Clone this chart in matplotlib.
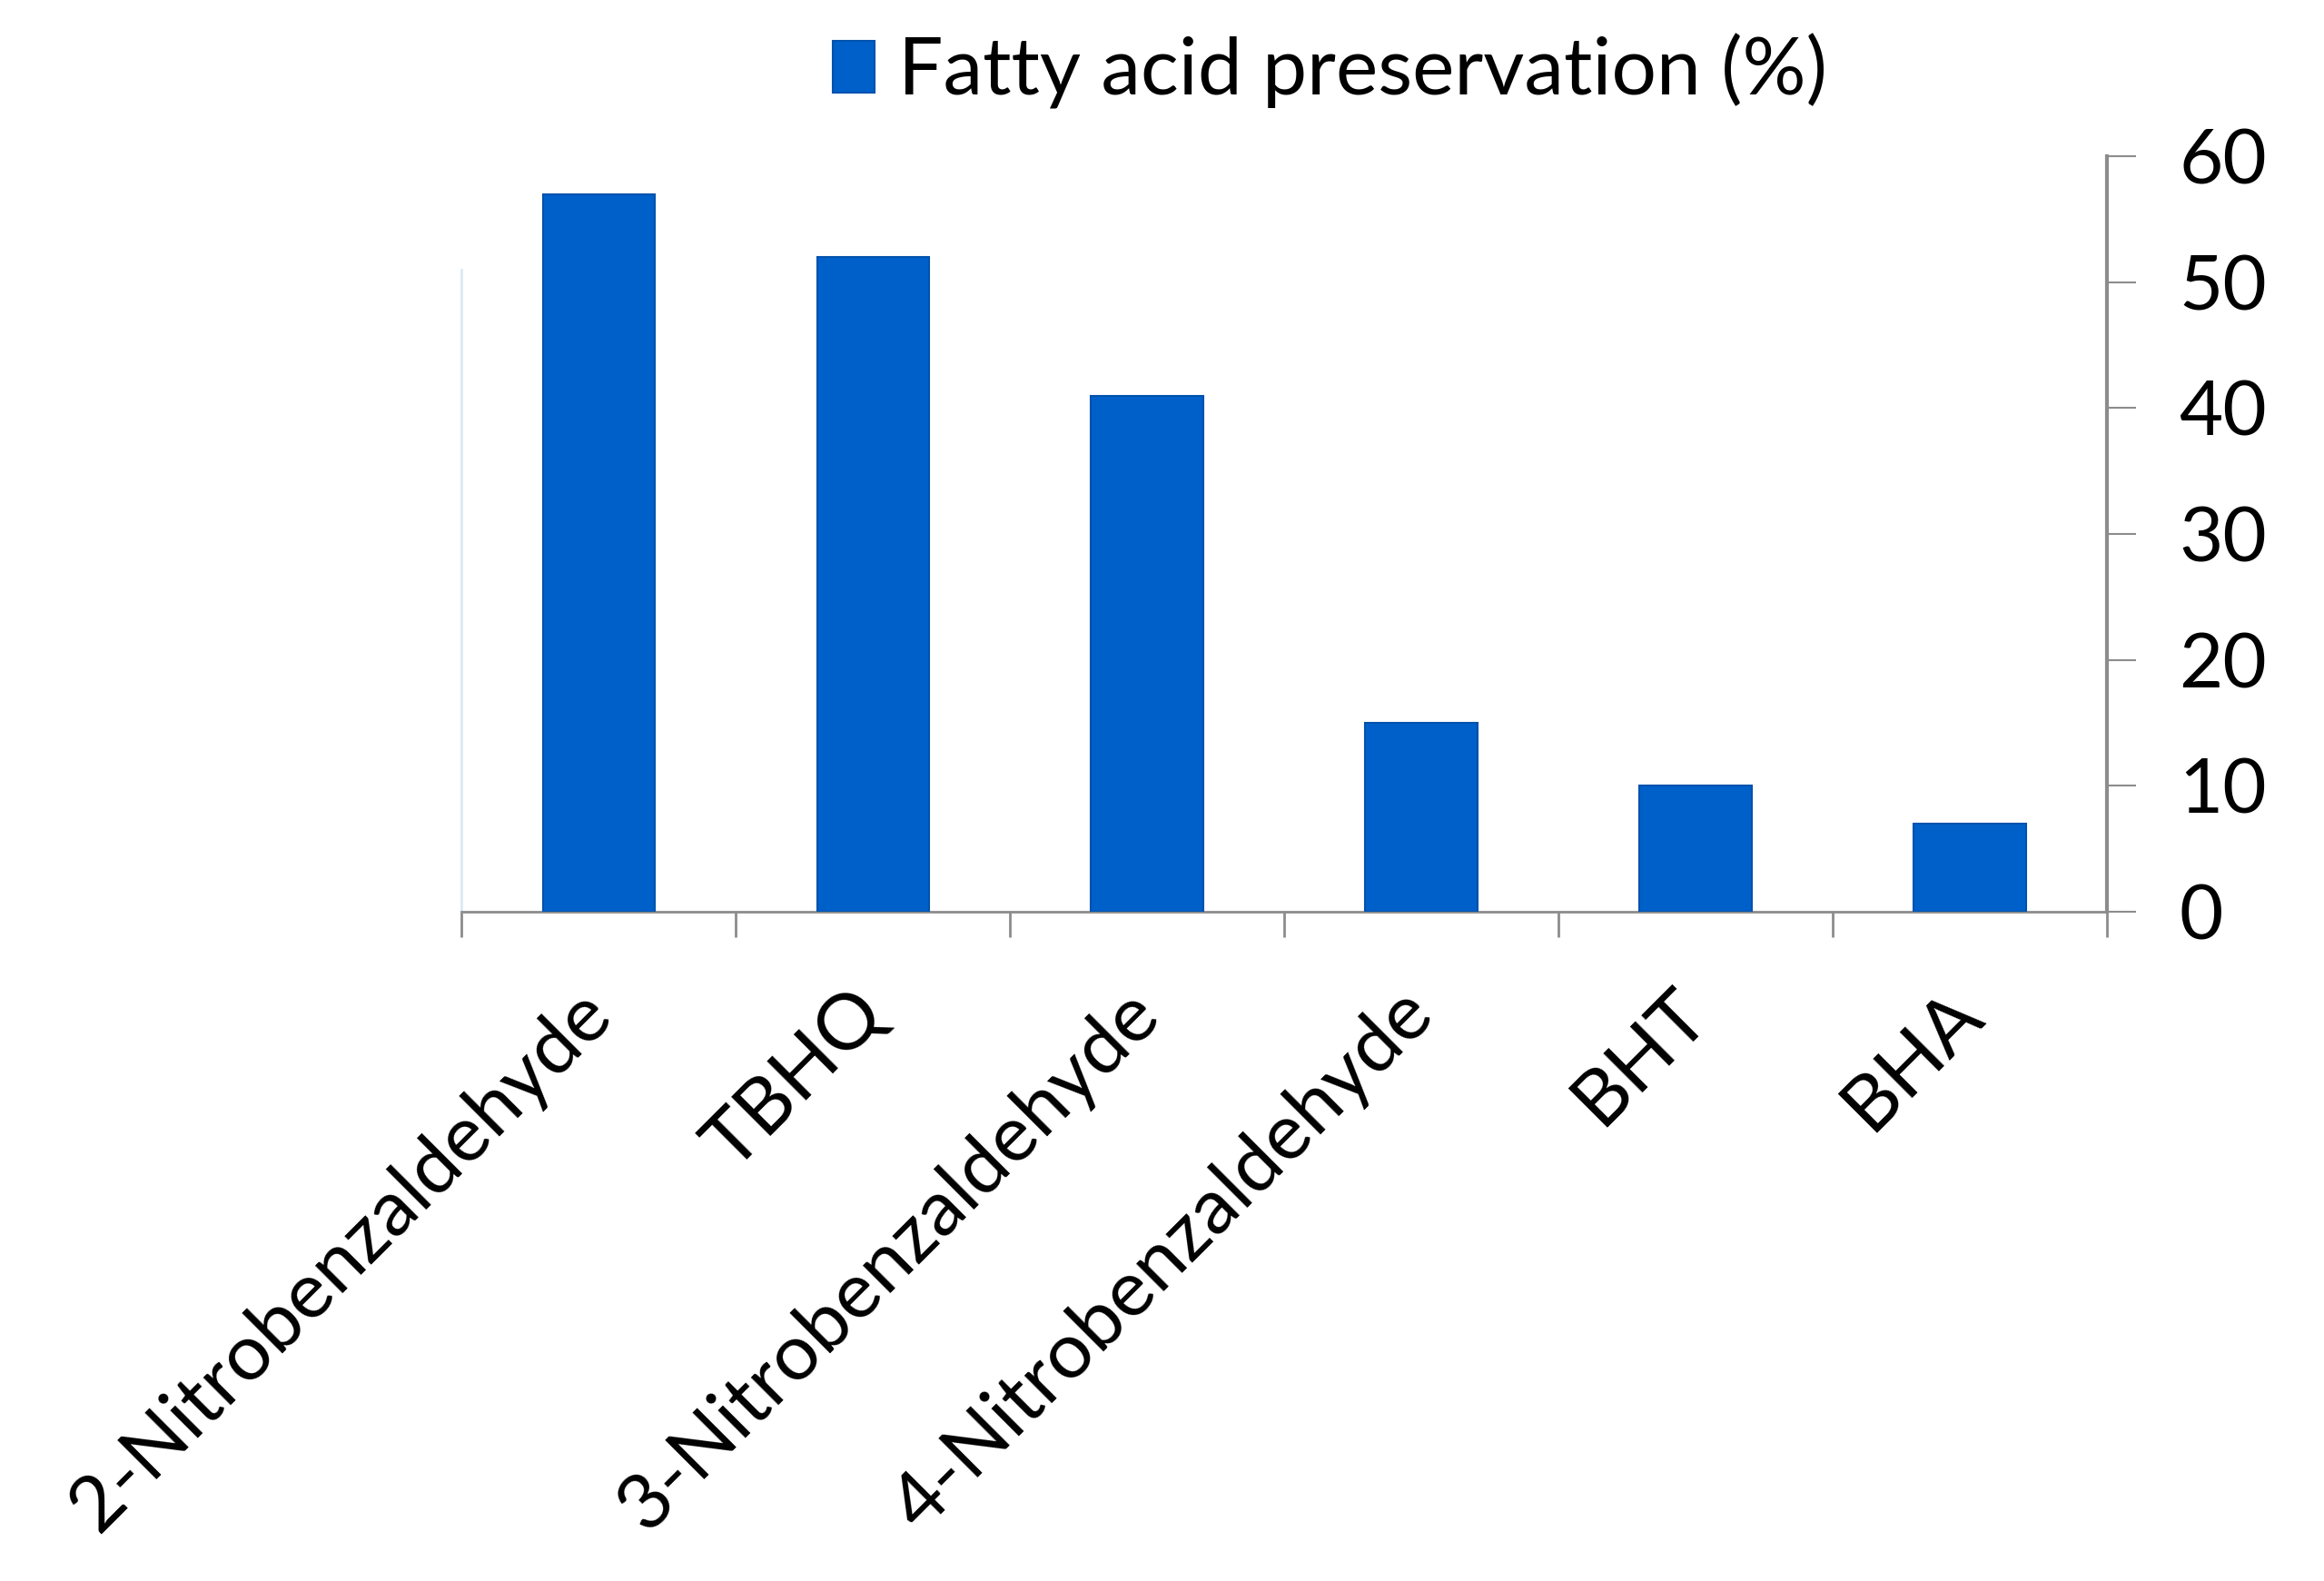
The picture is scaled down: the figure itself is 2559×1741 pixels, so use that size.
import numpy as np
import matplotlib
matplotlib.use('Agg')
import matplotlib.pyplot as plt
from matplotlib.ticker import FixedLocator, NullFormatter

plt.rcParams['font.family'] = ['Lato', 'DejaVu Sans']

# data
compounds = ['2-Nitrobenzaldehyde', 'TBHQ', '3-Nitrobenzaldehyde',
             '4-Nitrobenzaldehyde', 'BHT', 'BHA']
preservation = [57, 52, 41, 15, 10, 7]
y_ticks = [0, 10, 20, 30, 40, 50, 60]

bar_color = '#0060CA'
axis_color = '#8c8c8c'

fig = plt.figure(figsize=(25.59, 17.41), dpi=100)
ax = fig.add_axes([0.1987, 0.4235, 0.708, 0.4775])

x = np.arange(len(compounds))
ax.bar(x, preservation, width=0.41, color=bar_color, edgecolor='#0052ad',
       linewidth=1.5, label='Fatty acid preservation (%)', zorder=3)

ax.set_xlim(-0.5, len(compounds) - 0.5)
ax.set_ylim(0, 60)

# y axis on the right, ticks pointing outwards
ax.yaxis.tick_right()
ax.set_yticks(y_ticks)
ax.tick_params(axis='y', which='major', direction='out', length=23, width=1.5,
               color=axis_color, labelsize=60, pad=34)

# category labels at centres, tick marks at category boundaries
ax.set_xticks(x)
ax.set_xticklabels(compounds, rotation=45, ha='right', va='center',
                   rotation_mode='anchor', fontsize=62)
ax.tick_params(axis='x', which='major', length=0, pad=72)
ax.xaxis.set_minor_locator(FixedLocator(np.arange(-0.5, len(compounds), 1.0)))
ax.xaxis.set_minor_formatter(NullFormatter())
ax.tick_params(axis='x', which='minor', direction='out', length=20, width=2,
               color=axis_color)

ax.spines['top'].set_visible(False)
ax.spines['right'].set_color(axis_color)
ax.spines['right'].set_linewidth(3)
ax.spines['bottom'].set_color(axis_color)
ax.spines['bottom'].set_linewidth(2)
ax.spines['left'].set_color('#dbeaf2')
ax.spines['left'].set_linewidth(2)
ax.spines['left'].set_bounds(0, 51)

ax.legend(loc='center left', bbox_to_anchor=(0.3585, 0.955),
          bbox_transform=fig.transFigure, frameon=False, fontsize=63,
          handlelength=0.52, handleheight=0.62, handletextpad=0.3,
          borderpad=0, borderaxespad=0)

fig.savefig('out.png', dpi=100)
